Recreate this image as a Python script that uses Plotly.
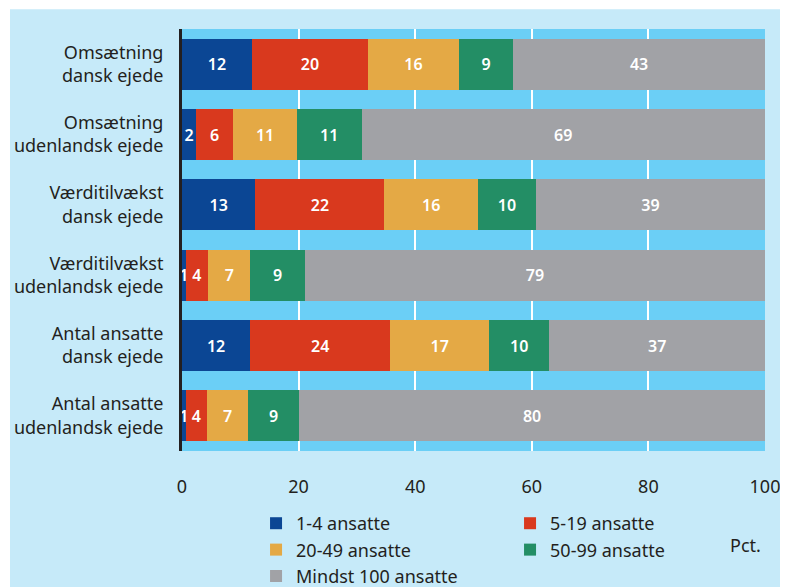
import plotly.graph_objects as go

categories = [
    "Omsætning<br>dansk ejede",
    "Omsætning<br>udenlandsk ejede",
    "Værditilvækst<br>dansk ejede",
    "Værditilvækst<br>udenlandsk ejede",
    "Antal ansatte<br>dansk ejede",
    "Antal ansatte<br>udenlandsk ejede",
]
series_names = ["1-4 ansatte", "5-19 ansatte", "20-49 ansatte", "50-99 ansatte", "Mindst 100 ansatte"]
v_1_4 = [12.0, 2.4, 12.6, 0.6, 11.7, 0.6]
v_5_19 = [19.9, 6.4, 22.1, 3.9, 24.0, 3.7]
v_20_49 = [15.6, 10.9, 16.1, 7.2, 17.0, 7.0]
v_50_99 = [9.3, 11.1, 9.9, 9.4, 10.3, 8.8]
v_100 = [43.2, 69.2, 39.3, 78.9, 37.0, 79.9]
series_values = [v_1_4, v_5_19, v_20_49, v_50_99, v_100]
colors = ["#0b4694", "#d9391e", "#e4a945", "#238e65", "#a1a2a6"]
x_ticks = [0, 20, 40, 60, 80, 100]

FONT = "Noto Sans"
TXT = "#231f20"

fig = go.Figure()
for name, vals, col in zip(series_names, series_values, colors):
    fig.add_trace(go.Bar(
        y=categories, x=vals, name=name, orientation="h",
        marker=dict(color=col, line=dict(width=0)),
        texttemplate="%{x:.0f}", textposition="inside",
        insidetextanchor="middle",
        textfont=dict(family=FONT, size=16, color="white", weight=600),
        cliponaxis=False,
    ))

fig.update_layout(
    width=780, height=579,
    barmode="stack", bargap=0.275,
    paper_bgcolor="#c6eaf9", plot_bgcolor="#6bcff6",
    margin=dict(l=174, r=23, t=21, b=136, autoexpand=False),
    font=dict(family=FONT, color=TXT, size=18),
    uniformtext=dict(minsize=16, mode="show"),
    legend=dict(
        orientation="h", x=0.127, y=-0.128, xanchor="left", yanchor="top",
        entrywidth=209, entrywidthmode="pixels",
        font=dict(family=FONT, size=18, color=TXT),
        bgcolor="rgba(0,0,0,0)", traceorder="normal",
        tracegroupgap=0,
    ),
    showlegend=True,
    xaxis=dict(
        range=[0, 100], tickvals=x_ticks, showgrid=True, gridcolor="white",
        gridwidth=2, zeroline=False, showline=False, ticks="",
        ticklabelstandoff=23,
        tickfont=dict(family=FONT, size=18, color=TXT),
    ),
    yaxis=dict(
        autorange="reversed", showline=True, linecolor=TXT, linewidth=3,
        ticks="", ticklabelstandoff=12,
        tickfont=dict(family=FONT, size=18, color=TXT),
        showgrid=False,
    ),
    shapes=[
        dict(type="rect", xref="paper", yref="paper", x0=-0.5, x1=-0.295, y0=-1, y1=2,
             fillcolor="white", line=dict(width=0), layer="below"),
        dict(type="rect", xref="paper", yref="paper", x0=-0.5, x1=1.5, y0=1.047, y1=1.3,
             fillcolor="white", line=dict(width=0), layer="below"),
    ],
    annotations=[
        dict(text="Pct.", xref="paper", yref="paper", x=0.966, y=-0.223,
             xanchor="center", yanchor="middle",
             showarrow=False, font=dict(family=FONT, size=18, color=TXT)),
    ],
)

fig.write_html("out.html")
